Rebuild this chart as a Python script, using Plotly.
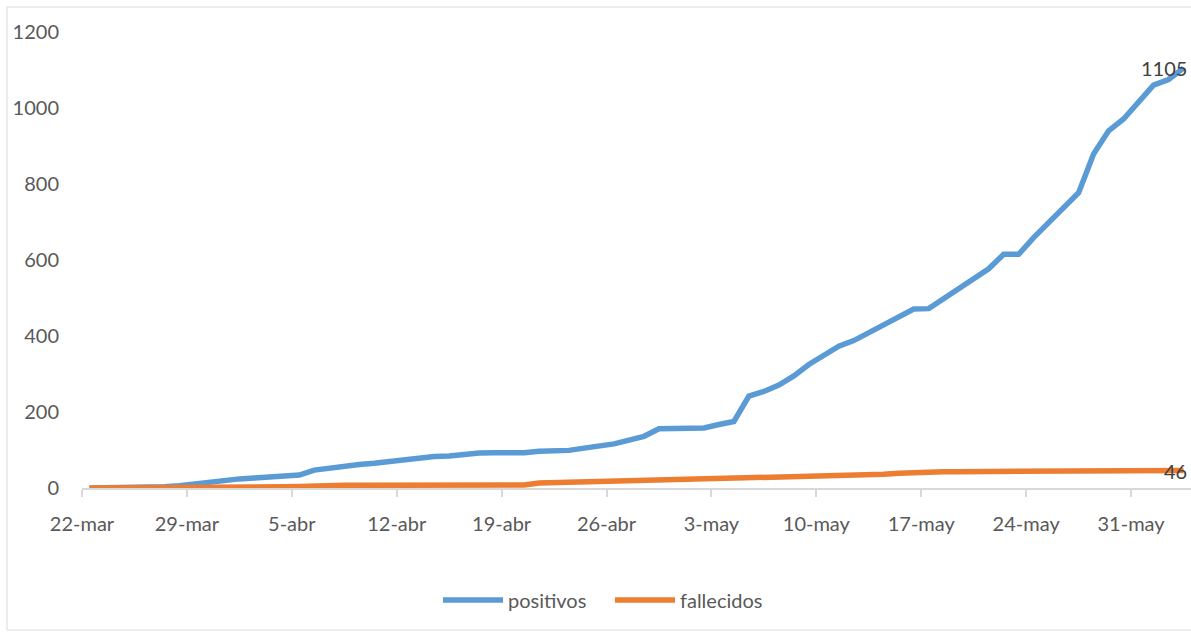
import pandas as pd
import plotly.graph_objects as go

# Daily series, 22-mar through 3-jun
start_date = "2020-03-22"
positivos = [
    0, 0, 1, 1, 2, 3, 6, 11, 15, 20,
    24, 26, 28, 31, 34, 47, 53, 59, 62, 65,
    69, 75, 80, 83, 84, 89, 92, 93, 93, 93,
    97, 98, 99, 105, 110, 116, 126, 136, 156, 156,
    157, 158, 167, 175, 242, 254, 271, 295, 325, 348,
    373, 388, 409, 431, 450, 471, 472, 498, 523, 548,
    577, 615, 615, 659, 700, 739, 777, 879, 940, 971,
    1015, 1060, 1075, 1105,
]
fallecidos = [
    0, 0, 0, 0, 0, 0, 0, 0, 0, 0,
    0, 0, 1, 3, 4, 6, 6, 7, 7, 7,
    7, 7, 7, 8, 8, 8, 8, 8, 8, 8,
    13, 14, 15, 16, 17, 18, 19, 19, 20, 20,
    21, 22, 23, 24, 25, 26, 27, 28, 29, 32,
    34, 34, 35, 36, 39, 41, 43, 43, 43, 43,
    43, 43, 43, 43, 43, 43, 43, 43, 43, 43,
    43, 43, 44, 46,
]
tick_dates = ["2020-03-22", "2020-03-29", "2020-04-05", "2020-04-12", "2020-04-19",
              "2020-04-26", "2020-05-03", "2020-05-10", "2020-05-17", "2020-05-24",
              "2020-05-31"]
tick_labels = ["22-mar", "29-mar", "5-abr", "12-abr", "19-abr", "26-abr",
               "3-may", "10-may", "17-may", "24-may", "31-may"]
y_ticks = [0, 200, 400, 600, 800, 1000, 1200]

dates = pd.date_range(start_date, periods=len(positivos), freq="D")
half_day = pd.Timedelta(hours=12)
# tick marks sit on the boundaries between day slots
tick_pos = [pd.Timestamp(d) - half_day for d in tick_dates]

BLUE = "#5B9BD5"
ORANGE = "#ED7D31"
GRID = "#D9D9D9"
TEXT = "#595959"
FONT = "Lato"

fig = go.Figure()
fig.add_trace(go.Scatter(x=dates, y=positivos, mode="lines", name="positivos",
                         line=dict(color=BLUE, width=5.5)))
fig.add_trace(go.Scatter(x=dates, y=fallecidos, mode="lines", name="fallecidos",
                         line=dict(color=ORANGE, width=5.5)))

# value labels on the final day
for series in (positivos, fallecidos):
    fig.add_annotation(x=dates[-1], y=series[-1], text=str(series[-1]),
                       showarrow=False, xanchor="right", yanchor="middle",
                       xshift=5, font=dict(family=FONT, size=20, color="#404040"))

plot_left, plot_bottom, plot_w, plot_h = 82, 488, 1109, 456
# outer chart frame
fig.add_shape(type="rect", xref="paper", yref="paper",
              x0=(7 - plot_left) / plot_w, x1=(1195 - plot_left) / plot_w,
              y0=(plot_bottom - 630) / plot_h, y1=(plot_bottom - 7) / plot_h,
              line=dict(color=GRID, width=1), layer="below")

fig.update_layout(
    width=1191, height=633,
    margin=dict(l=82, r=0, t=32, b=145),
    paper_bgcolor="white", plot_bgcolor="white",
    font=dict(family=FONT, size=20, color=TEXT),
    showlegend=True,
    legend=dict(orientation="h", x=(438 - plot_left) / plot_w, xanchor="left",
                y=(plot_bottom - 600) / plot_h, yanchor="middle",
                font=dict(family=FONT, size=20, color=TEXT),
                itemwidth=60, entrywidth=97, entrywidthmode="pixels",
                tracegroupgap=0),
)
fig.update_xaxes(
    type="date",
    range=[dates[0] - half_day, dates[-1] + half_day],
    tickmode="array", tickvals=tick_pos, ticktext=tick_labels,
    ticks="outside", ticklen=7, tickwidth=2, tickcolor=GRID,
    showline=True, linecolor=GRID, linewidth=2,
    showgrid=False, zeroline=False,
    ticklabelstandoff=10,
    tickfont=dict(family=FONT, size=20, color=TEXT),
)
fig.update_yaxes(
    range=[0, 1200], tickmode="array", tickvals=y_ticks,
    showline=False, showgrid=False, zeroline=False, ticks="",
    ticklabelstandoff=22,
    tickfont=dict(family=FONT, size=20, color=TEXT),
)

fig.write_html("out.html")
